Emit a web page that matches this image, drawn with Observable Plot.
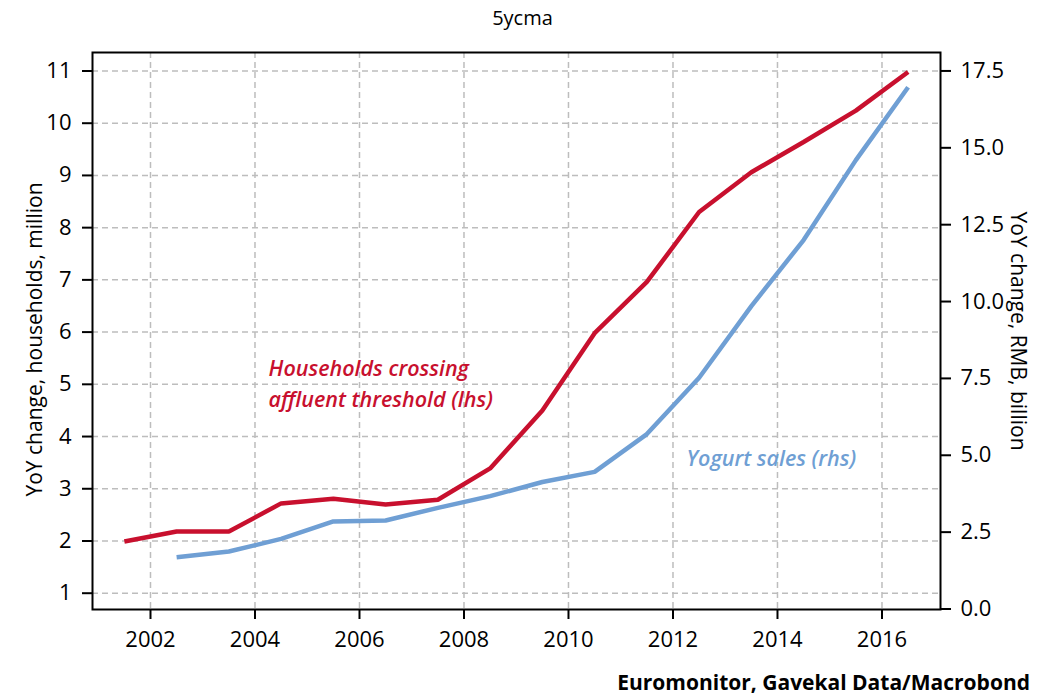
<!DOCTYPE html>
<html>
<head>
<meta charset="utf-8">
<script src="https://cdn.jsdelivr.net/npm/d3@7"></script>
<script src="https://cdn.jsdelivr.net/npm/@observablehq/plot@0.6"></script>
<style>
  html, body { margin: 0; padding: 0; background: #fff; }
  body { width: 1045px; height: 694px; overflow: hidden; font-family: "Open Sans", sans-serif; color: #000; }
  #title { height: 36px; line-height: 36px; text-align: center; font-size: 20px; }
  #caption { padding-top: 8px; line-height: 20px; font-size: 21px; font-weight: bold; text-align: right; padding-right: 15px; }
  #chart svg { display: block; }
</style>
</head>
<body>
<div id="title">5ycma</div>
<div id="chart"></div>
<div id="caption">Euromonitor, Gavekal Data/Macrobond</div>
<script>
// ---- data ----
const years = [2001.5, 2002.5, 2003.5, 2004.5, 2005.5, 2006.5, 2007.5, 2008.5,
               2009.5, 2010.5, 2011.5, 2012.5, 2013.5, 2014.5, 2015.5, 2016.5];
const households = [1.99, 2.18, 2.18, 2.72, 2.81, 2.70, 2.79, 3.39,
                    4.50, 5.98, 6.96, 8.30, 9.06, 9.64, 10.24, 10.98];   // lhs, million
const yogurt = [null, 1.68, 1.87, 2.28, 2.85, 2.88, 3.29, 3.67,
                4.13, 4.46, 5.69, 7.52, 9.85, 12.0, 14.6, 16.97];       // rhs, RMB billion
const xTicks = [2002, 2004, 2006, 2008, 2010, 2012, 2014, 2016];
const leftTicks = [1, 2, 3, 4, 5, 6, 7, 8, 9, 10, 11];
const rightTicks = [0, 2.5, 5, 7.5, 10, 12.5, 15, 17.5];
const leftTitle = "YoY change, households, million";
const rightTitle = "YoY change, RMB, billion";
const notes = [
  {label: "Households crossing\naffluent threshold (lhs)", series: "households", year: 2004.26, value: 4.575},
  {label: "Yogurt sales (rhs)", series: "yogurt", year: 2012.26, value: 3.43}
];

// ---- scales ----
const xDomain = [2000.89, 2017.12];
const yDomain = [0.688, 11.354];     // left axis
const rDomain = [-0.016, 18.10];     // right axis
const k = (yDomain[1] - yDomain[0]) / (rDomain[1] - rDomain[0]);
const toLeft = v => yDomain[0] + (v - rDomain[0]) * k;
const fromLeft = v => (v - yDomain[0]) / k + rDomain[0];

const RED = "#c8102e";
const BLUE = "#6f9fd4";
const colors = {households: RED, yogurt: BLUE};

const rows = years.map((yr, i) => ({year: yr, households: households[i], yogurt: yogurt[i]}));
const gridStyle = {stroke: "#bdbdbd", strokeOpacity: 1, strokeDasharray: "6,4", strokeWidth: 1.5};

const plot = Plot.plot({
  width: 1045,
  height: 628,
  marginTop: 16,
  marginBottom: 55,
  marginLeft: 92,
  marginRight: 105,
  style: {fontFamily: "Open Sans, sans-serif", fontSize: "22px", color: "#000", background: "#fff"},
  x: {domain: xDomain},
  y: {domain: yDomain},
  marks: [
    Plot.gridY(leftTicks, gridStyle),
    Plot.gridX(xTicks, gridStyle),
    Plot.line(rows, {x: "year", y: "households", stroke: RED, strokeWidth: 4.5, strokeLinecap: "butt", strokeLinejoin: "miter"}),
    Plot.line(rows.filter(d => d.yogurt != null), {x: "year", y: d => toLeft(d.yogurt), stroke: BLUE, strokeWidth: 4.5, strokeLinecap: "butt", strokeLinejoin: "miter"}),
    Plot.frame({stroke: "#000", strokeWidth: 2}),
    Plot.axisY(leftTicks, {anchor: "left", tickSize: 10, tickPadding: 11, strokeWidth: 2, label: null, tickFormat: d => String(d)}),
    Plot.axisY(rightTicks.map(toLeft), {anchor: "right", tickSize: 10, tickPadding: 10, strokeWidth: 2, label: null, tickFormat: d => fromLeft(d).toFixed(1)}),
    Plot.axisX(xTicks, {anchor: "bottom", tickSize: 10, tickPadding: 12, strokeWidth: 2, label: null, tickFormat: d => String(d)}),
    Plot.text([leftTitle], {frameAnchor: "left", text: d => d, dx: -57, dy: 8.5, rotate: -90, fontSize: 21, textAnchor: "middle"}),
    Plot.text([rightTitle], {frameAnchor: "right", text: d => d, dx: 77, dy: 0, rotate: 90, fontSize: 21, textAnchor: "middle"}),
    Plot.text(notes, {x: "year", y: "value", text: "label", fill: d => colors[d.series], textAnchor: "start", lineAnchor: "bottom", lineHeight: 1.43, fontSize: 21.5, fontWeight: 600, fontStyle: "italic"})
  ]
});
document.getElementById("chart").appendChild(plot);
</script>
</body>
</html>
